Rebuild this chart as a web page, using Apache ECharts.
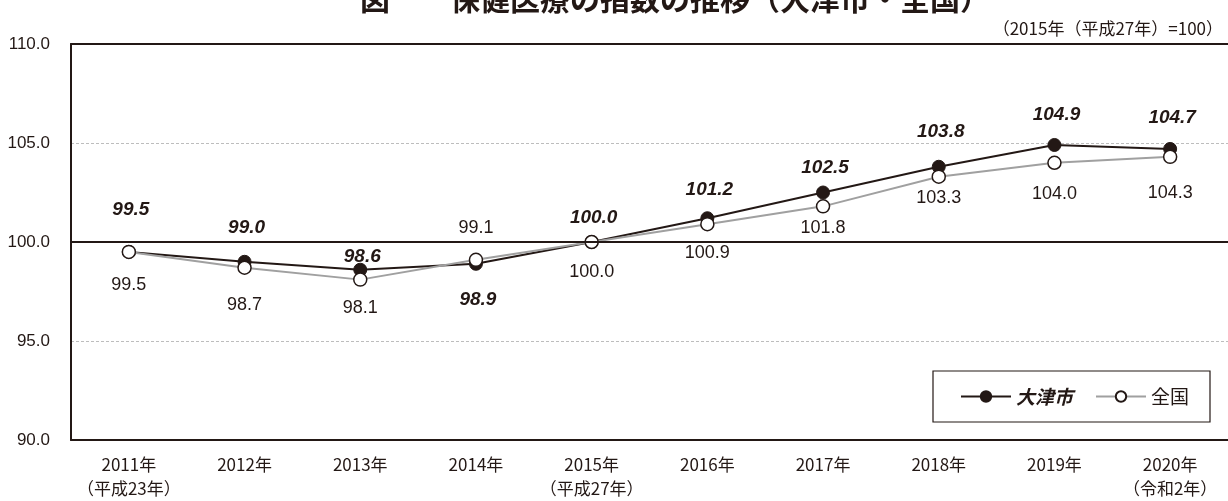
<!DOCTYPE html>
<html>
<head>
    <meta charset="UTF-8">
    <title>保健医療の指数の推移</title>
    <script type="text/javascript" src="https://cdn.jsdelivr.net/npm/echarts@6/dist/echarts.min.js"></script>
    <style>
        html, body { margin: 0; padding: 0; background: #fff; }
        #main { width: 1228px; height: 501px; }
    </style>
</head>
<body>
<div id="main"></div>
<script type="text/javascript">
    // 横軸（年）
    var categories = ['2011年\n（平成23年）', '2012年', '2013年', '2014年', '2015年\n（平成27年）',
        '2016年', '2017年', '2018年', '2019年', '2020年\n（令和2年）'];
    // 大津市・全国の指数（2015年=100）
    var otsuValues = [99.5, 99.0, 98.6, 98.9, 100.0, 101.2, 102.5, 103.8, 104.9, 104.7];
    var zenkokuValues = [99.5, 98.7, 98.1, 99.1, 100.0, 100.9, 101.8, 103.3, 104.0, 104.3];
    var yTicks = [90, 95, 100, 105, 110];

    // ラベルの上下のずれ(px)
    var otsuLabelDy = [-42, -34, -13, 36, -24, -28, -25, -35, -30, -31];
    var zenkokuLabelDy = [33, 37, 28, -32, 30, 29, 22, 21, 31, 36];

    var ink = '#231815';
    var myChart = echarts.init(document.getElementById('main'));

    option = {
        animation: false,
        backgroundColor: '#fff',
        title: [
            {
                text: '図　　保健医療の指数の推移（大津市・全国）',
                left: 355, top: -21,
                textStyle: {fontFamily: 'Noto Sans CJK JP', fontSize: 30, fontWeight: 'bold', color: ink}
            },
            {
                text: '（2015年（平成27年）=100）',
                right: 0, top: 15,
                textStyle: {fontFamily: 'Noto Sans CJK JP', fontSize: 17, fontWeight: 'normal', color: ink}
            }
        ],
        legend: {
            left: 933, top: 371,
            padding: [16, 21, 16, 27],
            itemGap: 22,
            itemWidth: 50,
            itemHeight: 13,
            borderColor: ink,
            borderWidth: 1.2,
            backgroundColor: '#fff',
            data: [
                {name: '大津市', textStyle: {fontStyle: 'italic', fontWeight: 'bold'}},
                {name: '全国'}
            ],
            textStyle: {fontFamily: 'Noto Sans CJK JP', fontSize: 19, color: ink}
        },
        grid: {left: 71, right: 0, top: 44, bottom: 60},
        xAxis: [
            {
                type: 'category',
                data: categories,
                boundaryGap: true,
                axisLine: {lineStyle: {color: ink, width: 2}},
                axisTick: {show: false},
                axisLabel: {
                    interval: 0,
                    margin: 13, lineHeight: 24,
                    fontFamily: 'Noto Sans CJK JP', fontSize: 17, color: ink
                }
            },
            {
                type: 'category',
                position: 'top',
                data: categories,
                axisLine: {lineStyle: {color: ink, width: 2}},
                axisTick: {show: false},
                axisLabel: {show: false}
            }
        ],
        yAxis: {
            type: 'value',
            min: yTicks[0],
            max: yTicks[yTicks.length - 1],
            interval: yTicks[1] - yTicks[0],
            axisLine: {show: true, lineStyle: {color: ink, width: 2}},
            axisTick: {show: false},
            splitLine: {lineStyle: {color: '#bdbdbd', width: 1, type: [3, 2]}},
            axisLabel: {
                margin: 21,
                fontFamily: 'Liberation Sans', fontSize: 17, color: ink,
                formatter: function (v) { return v.toFixed(1); }
            }
        },
        series: [
            {
                name: '大津市',
                type: 'line',
                symbol: 'circle',
                symbolSize: 13,
                lineStyle: {color: ink, width: 2},
                itemStyle: {color: ink, borderColor: ink, borderWidth: 1},
                z: 3,
                data: otsuValues.map(function (v, i) {
                    return {value: v, label: {offset: [2, otsuLabelDy[i]]}};
                }),
                label: {
                    show: true, position: 'inside',
                    fontFamily: 'Liberation Sans', fontSize: 19,
                    fontStyle: 'italic', fontWeight: 'bold', color: ink,
                    formatter: function (p) { return p.value.toFixed(1); }
                },
                markLine: {
                    silent: true,
                    symbol: 'none',
                    label: {show: false},
                    lineStyle: {color: ink, width: 2, type: 'solid'},
                    data: [{yAxis: 100}]
                }
            },
            {
                name: '全国',
                type: 'line',
                symbol: 'circle',
                symbolSize: 13,
                lineStyle: {color: '#a0a0a0', width: 2},
                itemStyle: {color: '#fff', borderColor: ink, borderWidth: 1.5},
                z: 4,
                data: zenkokuValues.map(function (v, i) {
                    return {value: v, label: {offset: [0, zenkokuLabelDy[i]]}};
                }),
                label: {
                    show: true, position: 'inside',
                    fontFamily: 'Liberation Sans', fontSize: 18, color: ink,
                    formatter: function (p) { return p.value.toFixed(1); }
                }
            }
        ]
    };
    myChart.setOption(option);
</script>
</body>
</html>
